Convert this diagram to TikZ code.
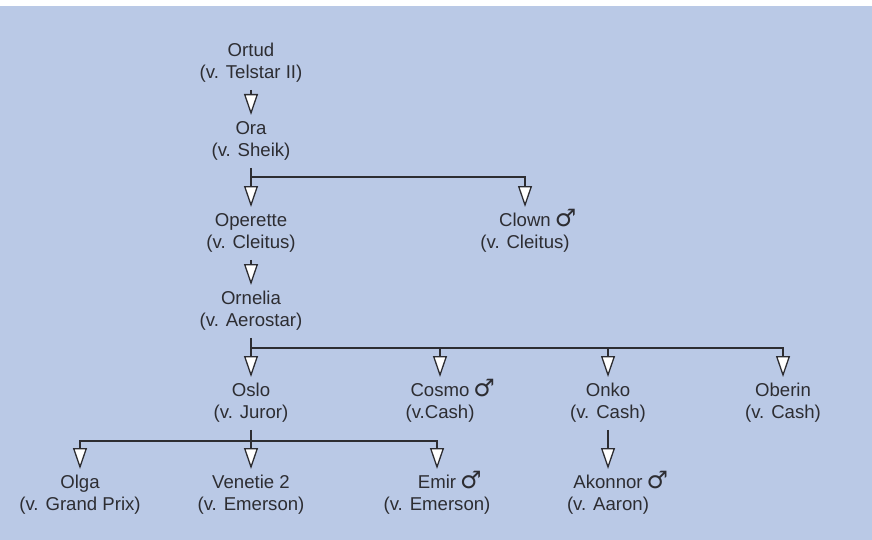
\documentclass[tikz,border=0pt]{standalone}
\usepackage{fontspec}
\setmainfont{Liberation Sans}
\newfontfamily\signfont{DejaVu Sans}
\usetikzlibrary{arrows.meta}
\definecolor{pedbg}{RGB}{186,201,230}
\definecolor{pedfg}{RGB}{45,45,50}
\newcommand{\horse}[2]{\strut #1\\\strut (#2)}
\newcommand{\stallion}{\rlap{\hspace{2pt}\smash{\signfont\fontsize{12}{12}\selectfont ♂}}}

\begin{document}
\begin{tikzpicture}[x=0.5pt,y=-0.5pt,
    horsebox/.style={anchor=north,align=center,inner sep=2pt,text=pedfg,
      font=\fontsize{9.3}{11}\selectfont},
    link/.style={draw=pedfg,line width=0.65pt},
    tree arrow/.style={link,-{Triangle[length=10.5pt,width=7pt,fill=white]}}]
  % background, white strip on top
  \useasboundingbox (0,0) rectangle (872,540);
  \fill[pedbg] (0,6) rectangle (872,540);
  % dam line
  \node[horsebox] (ortud) at (251,37) {\horse{Ortud}{v. Telstar II}};
  \node[horsebox] (ora) at (251,115) {\horse{Ora}{v. Sheik}};
  \node[horsebox] (operette) at (251,207) {\horse{Operette}{v. Cleitus}};
  \node[horsebox] (clown) at (525,207) {\horse{Clown\stallion}{v. Cleitus}};
  \node[horsebox] (ornelia) at (251,285) {\horse{Ornelia}{v. Aerostar}};
  % offspring of Ornelia
  \node[horsebox] (oslo) at (251,377) {\horse{Oslo}{v. Juror}};
  \node[horsebox] (cosmo) at (440,377) {\horse{Cosmo\stallion}{v.Cash}};
  \node[horsebox] (onko) at (608,377) {\horse{Onko}{v. Cash}};
  \node[horsebox] (oberin) at (783,377) {\horse{Oberin}{v. Cash}};
  % last generation
  \node[horsebox] (olga) at (80,469) {\horse{Olga}{v. Grand Prix}};
  \node[horsebox] (venetie) at (251,469) {\horse{Venetie 2}{v. Emerson}};
  \node[horsebox] (emir) at (437,469) {\horse{Emir\stallion}{v. Emerson}};
  \node[horsebox] (akonnor) at (608,469) {\horse{Akonnor\stallion}{v. Aaron}};
  % bars
  \coordinate (sheikbar) at (251,177);
  \coordinate (aerobar) at (251,348);
  \coordinate (jurorbar) at (251,441);
  \draw[tree arrow] (ortud.south) -- (ora.north);
  \draw[link] (ora.south) -- (sheikbar);
  \draw[tree arrow] (sheikbar) -- (operette.north);
  \draw[tree arrow] (sheikbar) -| (clown.north);
  \draw[tree arrow] (operette.south) -- (ornelia.north);
  \draw[link] (ornelia.south) -- (aerobar);
  \foreach \c in {oslo,cosmo,onko,oberin}
    \draw[tree arrow] (aerobar) -| (\c.north);
  \draw[link] (oslo.south) -- (jurorbar);
  \foreach \c in {olga,venetie,emir}
    \draw[tree arrow] (jurorbar) -| (\c.north);
  \draw[tree arrow] (onko.south) -- (akonnor.north);
\end{tikzpicture}
\end{document}
